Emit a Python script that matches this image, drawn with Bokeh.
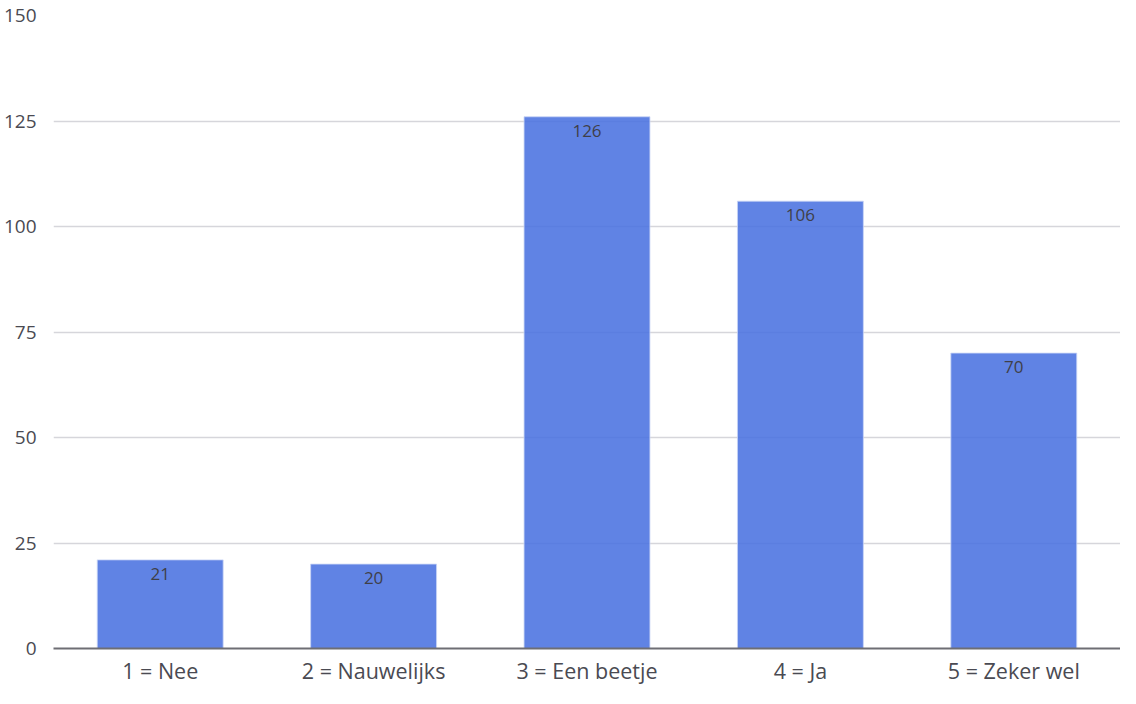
from bokeh.plotting import figure
from bokeh.models import ColumnDataSource, FactorRange, Range1d, FixedTicker, LabelSet
from bokeh.core.properties import value
from bokeh.embed import file_html
from bokeh.resources import INLINE

categories = ["1 = Nee", "2 = Nauwelijks", "3 = Een beetje", "4 = Ja", "5 = Zeker wel"]
counts = [21, 20, 126, 106, 70]
y_ticks = [0, 25, 50, 75, 100, 125, 150]

src = ColumnDataSource(dict(cat=categories, val=counts, lbl=[str(v) for v in counts]))

p = figure(x_range=FactorRange(*categories), y_range=Range1d(0, 150),
           width=1120, height=688, output_backend="svg", toolbar_location=None,
           min_border_left=46, min_border_right=0, min_border_top=15, min_border_bottom=40)
p.outline_line_color = None
p.background_fill_color = "white"

p.vbar(x="cat", top="val", width=0.59, source=src, fill_color="#4a72e0", fill_alpha=0.88,
       line_color="#c9d5f5", line_width=1, line_alpha=0.8)

labels = LabelSet(x="cat", y="val", text="lbl", source=src, text_align="center",
                  text_baseline="top", y_offset=-8, text_font=value("Open Sans"),
                  text_font_size="17px", text_color="#3f3f48")
p.add_layout(labels)

p.xgrid.grid_line_color = None
p.ygrid.grid_line_color = "#d6d6db"
p.ygrid.grid_line_width = 1.5
p.yaxis.ticker = FixedTicker(ticks=y_ticks)

p.yaxis.axis_line_color = None
p.yaxis.major_tick_line_color = None
p.yaxis.minor_tick_line_color = None
p.yaxis.major_label_text_font = "Open Sans"
p.yaxis.major_label_text_font_size = "19px"
p.yaxis.major_label_text_color = "#4a4a52"
p.yaxis.major_label_standoff = 11

p.xaxis.axis_line_color = "#6e6e74"
p.xaxis.axis_line_width = 2
p.xaxis.major_tick_line_color = None
p.xaxis.minor_tick_line_color = None
p.xaxis.major_tick_out = 0
p.xaxis.major_tick_in = 0
p.xaxis.major_label_text_font = "Open Sans"
p.xaxis.major_label_text_font_size = "21.5px"
p.xaxis.major_label_text_color = "#4a4a52"
p.xaxis.major_label_standoff = 7

open("out.html", "w").write(file_html(p, INLINE))
